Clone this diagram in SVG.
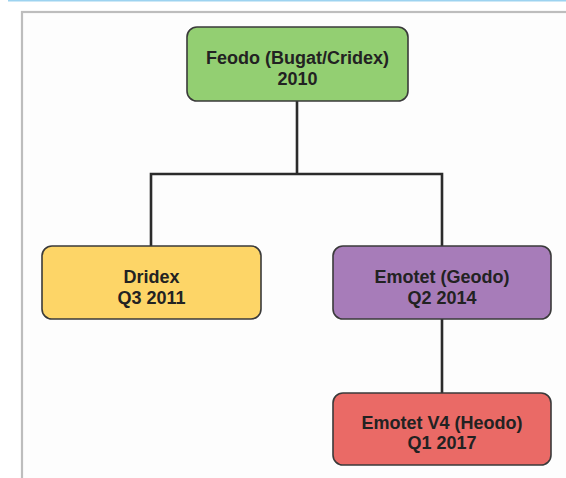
<svg xmlns="http://www.w3.org/2000/svg" width="566" height="478" viewBox="0 0 566 478">
<style>
.box{stroke:#3a3a3a;stroke-width:1.6}
.lbl{font-family:"Liberation Sans",Arial,sans-serif;font-size:18px;font-weight:bold;fill:#222;text-anchor:middle}
.conn{fill:none;stroke:#2b2b2b;stroke-width:2.6}
</style>
<rect x="0" y="0" width="566" height="478" fill="#ffffff"/>
<line x1="8" y1="0.8" x2="566" y2="0.8" stroke="#9dd3f0" stroke-width="1.6"/>
<rect x="22" y="12" width="560" height="480" fill="#fdfdfd" stroke="#bdbdbd" stroke-width="2.2"/>
<g id="connectors">
<path class="conn" d="M297 101 V174"/>
<path class="conn" d="M151 246 V174 H442 V246"/>
<path class="conn" d="M442 319 V393"/>
</g>
<g id="feodo">
<rect class="box" x="187" y="27" width="221" height="74" rx="10" fill="#93cf72"/>
<text class="lbl" x="297.5" y="64">Feodo (Bugat/Cridex)</text>
<text class="lbl" x="297.5" y="84.5">2010</text>
</g>
<g id="dridex">
<rect class="box" x="42" y="246" width="219" height="73" rx="10" fill="#fdd567"/>
<text class="lbl" x="151.5" y="283">Dridex</text>
<text class="lbl" x="151.5" y="303.5">Q3 2011</text>
</g>
<g id="emotet">
<rect class="box" x="333" y="246" width="218" height="73" rx="10" fill="#a77cb9"/>
<text class="lbl" x="442" y="283">Emotet (Geodo)</text>
<text class="lbl" x="442" y="303.5">Q2 2014</text>
</g>
<g id="emotet-v4">
<rect class="box" x="333" y="393" width="218" height="72" rx="10" fill="#ea6a66"/>
<text class="lbl" x="442" y="428.5">Emotet V4 (Heodo)</text>
<text class="lbl" x="442" y="449">Q1 2017</text>
</g>
</svg>
